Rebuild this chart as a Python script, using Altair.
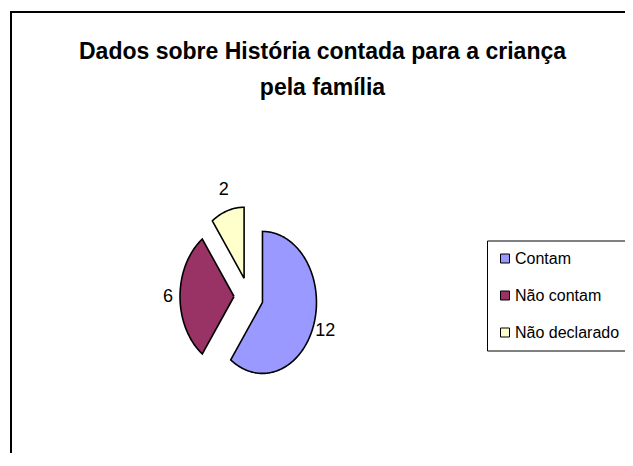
import altair as alt
import pandas as pd

categories = ["Contam", "Não contam", "Não declarado"]
values = [12, 6, 2]
colors = ["#9999FF", "#993366", "#FFFFCC"]
title_lines = ["Dados sobre História contada para a criança", "pela família"]

W, H = 617, 445
CX, CY = 240.6, 288.5
RX, RY = 54, 71
EXPLODE = 0.27
LABEL_RX, LABEL_RY = 80.6, 112
FONT = "Liberation Sans, Arial, sans-serif"

df = pd.DataFrame({"category": categories, "value": values,
                   "idx": list(range(len(categories)))})

xscale = alt.Scale(domain=[-100, 100], range=[CX - 100, CX + 100], nice=False, zero=False)
yscale = alt.Scale(domain=[-100, 100], range=[CY - 100, CY + 100], nice=False, zero=False)

base = alt.Chart(df).transform_joinaggregate(
    total="sum(value)"
).transform_window(
    cum="sum(value)", sort=[alt.SortField("idx")], frame=[None, 0]
).transform_calculate(
    a0="(datum.cum - datum.value) / datum.total * 360",
    a1="datum.cum / datum.total * 360",
    mid="(datum.a0 + datum.a1) / 2",
    ex=f"{EXPLODE * RX} * sin(datum.mid * PI / 180)",
    ey=f"-{EXPLODE * RY} * cos(datum.mid * PI / 180)",
)

slices = base.transform_calculate(
    n="ceil(datum.a1 - datum.a0)",
    steps="sequence(-1, datum.n + 2)",
).transform_flatten(["steps"], as_=["k"]).transform_calculate(
    edge="datum.k >= 0 && datum.k <= datum.n ? 1 : 0",
    ang="min(datum.a0 + datum.k, datum.a1) * PI / 180",
    px=f"datum.ex + datum.edge * {RX} * sin(datum.ang)",
    py=f"datum.ey - datum.edge * {RY} * cos(datum.ang)",
).mark_line(filled=True, stroke="black", strokeWidth=1.6).encode(
    x=alt.X("px:Q", scale=xscale, axis=None),
    y=alt.Y("py:Q", scale=yscale, axis=None),
    color=alt.Color(
        "category:N",
        scale=alt.Scale(domain=categories, range=colors),
        legend=alt.Legend(
            title=None, orient="none", legendX=479, legendY=232.5,
            strokeColor="black", fillColor="white", padding=10,
            symbolType="square", symbolSize=81, symbolStrokeColor="black",
            symbolStrokeWidth=1, labelFont=FONT, labelFontSize=16,
            labelColor="black", labelOffset=2, rowPadding=21, labelLimit=300,
        ),
    ),
    order=alt.Order("k:Q"),
)

labels = base.transform_calculate(
    lx=f"{LABEL_RX} * sin(datum.mid * PI / 180)",
    ly=f"-{LABEL_RY} * cos(datum.mid * PI / 180)",
).mark_text(font=FONT, fontSize=18, color="black").encode(
    x=alt.X("lx:Q", scale=xscale, axis=None),
    y=alt.Y("ly:Q", scale=yscale, axis=None),
    text="value:Q",
)

frame_df = pd.DataFrame({"f": [0]})
top_rule = alt.Chart(frame_df).mark_rule(color="black", strokeWidth=2).encode(
    x=alt.value(3), x2=alt.value(W), y=alt.value(4)
)
left_rule = alt.Chart(frame_df).mark_rule(color="black", strokeWidth=2).encode(
    x=alt.value(3), y=alt.value(3), y2=alt.value(H)
)

chart = alt.layer(top_rule, left_rule, slices, labels).properties(
    width=W, height=H, padding=0,
    autosize=alt.AutoSizeParams(type="none"),
    title=alt.TitleParams(
        text=title_lines, font=FONT, fontSize=23, fontWeight="bold",
        color="black", anchor="middle", frame="group", offset=-92,
        lineHeight=36, dx=6,
    ),
).configure_view(strokeWidth=0)

chart.save("out.html", embed_options={"renderer": "svg", "actions": False})
